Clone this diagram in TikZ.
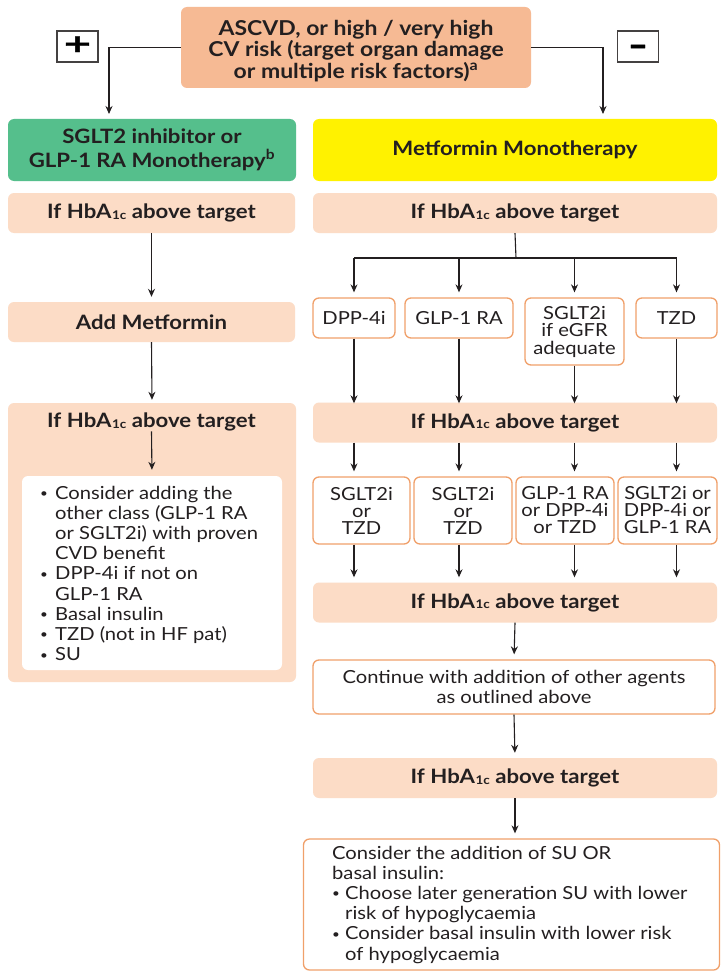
\documentclass[tikz,border=0pt]{standalone}
\usepackage{fontspec}
\setmainfont{Lato}[FakeStretch=1.12]
\newfontfamily\djv{DejaVu Sans}
\usetikzlibrary{arrows.meta}
\definecolor{peach}{HTML}{FCDCC6}
\definecolor{peachdark}{HTML}{F6BA94}
\definecolor{grn}{HTML}{55BF8C}
\definecolor{ylw}{HTML}{FFF200}
\definecolor{orng}{HTML}{F0A06A}
\definecolor{txt}{HTML}{231F20}
\newcommand\hba{HbA\kern0.8pt\raisebox{-0.6pt}{\fontsize{12}{12}\selectfont 1c}}
\newcommand\bul{\makebox[15pt][l]{\raisebox{1.5pt}{\fontsize{12}{12}\selectfont•}}}
\newcommand\sbul{\makebox[13pt][l]{\raisebox{1.5pt}{\fontsize{12}{12}\selectfont•}}}
\begin{document}
\begin{tikzpicture}[x=1pt,y=-1pt,
  font=\fontsize{18}{20.2}\selectfont, text=txt,
  pbox/.style={fill=peach, rounded corners=6pt, inner sep=0pt, align=center},
  hfont/.style={font=\fontsize{19.8}{22}\selectfont\bfseries},
  obox/.style={draw=orng, line width=1.3pt, fill=white, rounded corners=6pt, inner sep=0pt, align=center},
  sgnbox/.style={draw=txt!85, line width=1.2pt, fill=white, inner sep=0pt, minimum width=41pt, minimum height=31pt, text=black},
  arr/.style={-{Stealth[length=8pt,width=7pt]}, line width=1.1pt, draw=txt, shorten >=5pt},
  ln/.style={line width=1.1pt, draw=txt}]
\useasboundingbox (0,0) rectangle (721,971);
\clip (0,0) rectangle (721,971);
\fill[white] (0,0) rectangle (721,971);
% top
\node[pbox, fill=peachdark, minimum width=350pt, minimum height=81pt] (top) at (356,47.5) {};
\node[inner sep=0pt, align=center, font=\fontsize{20.5}{21.2}\selectfont\bfseries] (toptxt) at (356,51)
  {ASCVD, or high / very high\\CV risk (target organ damage\\or multiple risk factors)\textsuperscript{a}};
\node[sgnbox] (plus) at (77.5,46.5)
  {\raisebox{0pt}[0.62em][0pt]{\scalebox{1.45}[1]{\djv\bfseries\addfontfeature{FakeBold=1.2}\fontsize{25}{25}\selectfont +}}};
\node[sgnbox] (minus) at (638,46.5)
  {\raisebox{-3.5pt}[0.62em][0pt]{\scalebox{0.9}[1.15]{\djv\bfseries\addfontfeature{FakeBold=1.2}\fontsize{25}{25}\selectfont −}}};
% level 1
\node[pbox, fill=grn, minimum width=288pt, minimum height=62pt, font=\fontsize{19.8}{23.5}\selectfont\bfseries] (sglt) at (152,150)
  {SGLT2 inhibitor or\\GLP-1 RA Monotherapy\textsuperscript{b}};
\node[pbox, fill=ylw, minimum width=404pt, minimum height=62pt, hfont] (metf) at (515,150) {Metformin Monotherapy};
\coordinate (lc) at (109,114);
\coordinate (rc) at (603,114);
\draw[arr, shorten >=0pt] (top.west) -| (lc);
\draw[arr, shorten >=0pt] (top.east) -| (rc);
% left column
\node[pbox, minimum width=287pt, minimum height=40pt, hfont] (lh1) at (151.5,213) {If \hba\ above target};
\node[pbox, minimum width=287pt, minimum height=40pt, hfont] (addm) at (151.5,322) {Add Metformin};
\node[pbox, minimum width=288pt, minimum height=279pt] (lbig) at (152,542.5) {};
\node[inner sep=0pt, hfont] (lh2) at (151.5,422) {If \hba\ above target};
\node[fill=white, rounded corners=6pt, minimum width=260pt, minimum height=194pt, inner sep=0pt] (inner) at (152,573) {};
\node[anchor=base west, inner sep=0pt] (list) at (40,499)
  {\begin{tabular}[t]{@{}l@{}}
   \bul Consider adding the\\
   \hspace{15pt}other class (GLP-1 RA\\
   \hspace{15pt}or SGLT2i) with proven\\
   \hspace{15pt}CVD benefit\\
   \bul DPP-4i if not on\\
   \hspace{15pt}GLP-1 RA\\
   \bul Basal insulin\\
   \bul TZD (not in HF pat)\\
   \bul SU
   \end{tabular}};
\draw[arr] (lh1.south) -- (addm.north);
\draw[arr, shorten >=3pt] (addm.south) -- (lbig.north);
\draw[arr, shorten >=6pt] (lh2.south) -- (inner.north);
% right column
\node[pbox, minimum width=404pt, minimum height=40pt, hfont] (rh1) at (515,213) {If \hba\ above target};
\node[obox, minimum width=82pt, minimum height=40pt] (b1) at (354,318) {DPP-4i};
\node[obox, minimum width=108pt, minimum height=40pt] (b2) at (459,318) {GLP-1 RA};
\node[obox, minimum width=99pt, minimum height=67pt, font=\fontsize{18}{17.5}\selectfont] (b3) at (574.5,331.5) {SGLT2i\\if eGFR\\adequate};
\node[obox, minimum width=81pt, minimum height=40pt] (b4) at (676.5,318) {TZD};
\coordinate (br) at (516,258);
\draw[ln] (rh1.south) -- (br);
\draw[ln] (b1.north |- br) -- (b4.north |- br);
\foreach \b in {b1,b2,b3,b4} \draw[arr] (\b.north |- br) -- (\b.north);
\node[pbox, minimum width=404pt, minimum height=40pt, hfont] (rh2) at (515,422.5) {If \hba\ above target};
\foreach \b in {b1,b2,b3,b4} \draw[arr, shorten >=0pt] (\b.south) -- ([yshift=-1pt]\b.south |- rh2.north);
\node[obox, minimum width=97pt, minimum height=67pt, font=\fontsize{18}{17}\selectfont] (c1) at (361.5,510.5) {SGLT2i\\or\\TZD};
\node[obox, minimum width=98pt, minimum height=67pt, font=\fontsize{18}{17}\selectfont] (c2) at (463,510.5) {SGLT2i\\or\\TZD};
\node[obox, minimum width=98pt, minimum height=67pt, font=\fontsize{18}{17}\selectfont] (c3) at (565,510.5) {GLP-1 RA\\or DPP-4i\\or TZD};
\node[obox, minimum width=99pt, minimum height=67pt, font=\fontsize{18}{17}\selectfont] (c4) at (667.5,510.5) {SGLT2i or\\DPP-4i or\\GLP-1 RA};
\node[pbox, minimum width=404pt, minimum height=40pt, hfont] (rh3) at (515,602.5) {If \hba\ above target};
\draw[arr] (b1.south |- rh2.south) -- (b1.south |- c1.north);
\draw[arr] (b2.south |- rh2.south) -- (b2.south |- c2.north);
\draw[arr] (b3.south |- rh2.south) -- (b3.south |- c3.north);
\draw[arr] (b4.south |- rh2.south) -- (b4.south |- c4.north);
\draw[arr] (b1.south |- c1.south) -- (b1.south |- rh3.north);
\draw[arr] (b2.south |- c2.south) -- (b2.south |- rh3.north);
\draw[arr] (b3.south |- c3.south) -- (b3.south |- rh3.north);
\draw[arr] (b4.south |- c4.south) -- (b4.south |- rh3.north);
\node[obox, minimum width=402pt, minimum height=54pt] (cont) at (514,687) {Continue with addition of other agents\\as outlined above};
\draw[arr] (rh3.south) -- (cont.north);
\node[pbox, minimum width=404pt, minimum height=40pt, hfont] (rh4) at (515,778) {If \hba\ above target};
\draw[arr] (cont.south) -- (rh4.north);
\node[obox, minimum width=416pt, minimum height=131pt] (fin) at (511.5,904.5) {};
\draw[arr] (rh4.south) -- (rh4.south |- fin.north);
\node[anchor=base west, inner sep=0pt] (fintxt) at (332,859)
  {\begin{tabular}[t]{@{}l@{}}
   Consider the addition of SU OR\\
   basal insulin:\\
   \sbul Choose later generation SU with lower\\
   \hspace{13pt}risk of hypoglycaemia\\
   \sbul Consider basal insulin with lower risk\\
   \hspace{13pt}of hypoglycaemia
   \end{tabular}};
\end{tikzpicture}
\end{document}
